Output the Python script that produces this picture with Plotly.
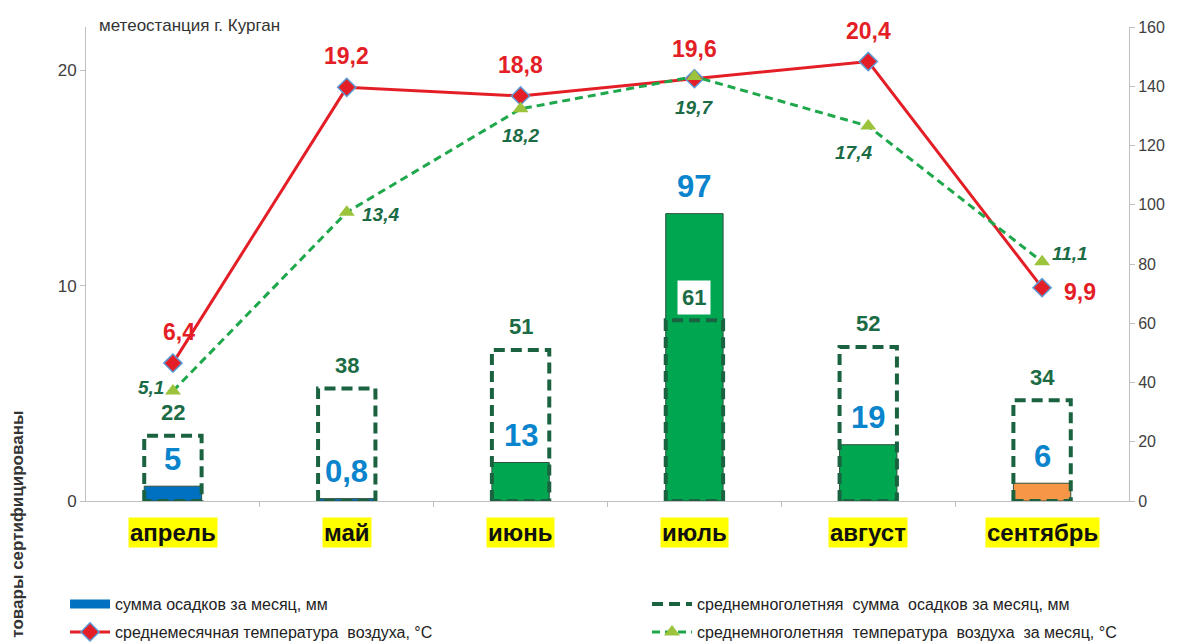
import plotly.graph_objects as go

# ---- data ----
months = ["апрель", "май", "июнь", "июль", "август", "сентябрь"]
precip = [5, 0.8, 13, 97, 19, 6]              # сумма осадков за месяц, мм
precip_norm = [22, 38, 51, 61, 52, 34]        # среднемноголетняя сумма осадков, мм
temp = [6.4, 19.2, 18.8, 19.6, 20.4, 9.9]     # среднемесячная температура, °C
temp_norm = [5.1, 13.4, 18.2, 19.7, 17.4, 11.1]  # среднемноголетняя температура, °C

station = "метеостанция г. Курган"
side_text = "товары сертифицированы"
leg_precip = "сумма осадков за месяц, мм"
leg_precip_norm = "среднемноголетняя\u00a0 сумма\u00a0 осадков за месяц, мм"
leg_temp = "среднемесячная температура\u00a0 воздуха, °C"
leg_temp_norm = "среднемноголетняя\u00a0 температура\u00a0 воздуха\u00a0 за месяц, °C"

# ---- styles ----
bar_colors = ["#0070C0", "#0070C0", "#00A650", "#00A650", "#00A650", "#F79646"]
RED = "#E41E26"
DKGREEN = "#1B6340"
LBLGREEN = "#1B6B45"
BLUE_LBL = "#0A84CC"
BASE = "Liberation Sans, Arial, sans-serif"
AXC = "#BFBFBF"
half_w = 0.165
red_shift = [(6, 31), (0, 31), (0, 31), (0, 30), (0, 30), (38, -4)]
green_shift = [(-22, 4), (34, -2), (0, -27), (0, -31), (-15, -26), (28, 8)]

fmt = lambda v: (f"{v:g}").replace(".", ",")
xs = list(range(len(months)))

fig = go.Figure()

# actual precipitation bars
fig.add_trace(go.Bar(
    x=xs, y=precip, yaxis="y2", width=2 * half_w,
    marker=dict(color=bar_colors, line=dict(color="#2F4F3F", width=1)),
    showlegend=False, hoverinfo="skip"))

# dashed outlines for normal precipitation
ox, oy = [], []
for i, v in zip(xs, precip_norm):
    ox += [i - half_w, i - half_w, i + half_w, i + half_w, i - half_w, None]
    oy += [0, v, v, 0, 0, None]

# legend dummy for bars
fig.add_trace(go.Scatter(x=[None], y=[None], mode="lines", name=leg_precip,
                         line=dict(color="#0070C0", width=9), legend="legend"))
fig.add_trace(go.Scatter(x=ox, y=oy, yaxis="y2", mode="lines", name=leg_precip_norm,
                         line=dict(color=DKGREEN, width=4, dash="11px,6px"),
                         legend="legend2", hoverinfo="skip"))

# temperature lines
fig.add_trace(go.Scatter(
    x=xs, y=temp, mode="lines+markers", name=leg_temp, legend="legend3",
    line=dict(color=RED, width=3),
    marker=dict(symbol="diamond", size=14, color=RED, line=dict(color="#5B9BD5", width=1.5))))
fig.add_trace(go.Scatter(
    x=xs, y=temp_norm, mode="lines+markers", name=leg_temp_norm, legend="legend4",
    line=dict(color="#1EA84B", width=3, dash="8px,5px"),
    marker=dict(symbol="triangle-up", size=14, color="#9BC43C")))

ann = []
ann.append(dict(text=station, xref="paper", yref="paper", x=0.0105, y=1.004,
                xanchor="left", yanchor="middle", showarrow=False,
                font=dict(size=17, color="#333333", family=BASE)))
for i, m in zip(xs, months):
    ann.append(dict(text=f"<b>{m}</b>", x=i, xref="x", y=0, yref="paper", yshift=-31,
                    yanchor="middle", showarrow=False, bgcolor="#FFFF00", borderpad=1,
                    font=dict(size=24, color="#111111", family=BASE)))
for i, v in zip(xs, precip):
    ann.append(dict(text=f"<b>{fmt(v)}</b>", x=i, y=v, xref="x", yref="y2", yshift=27,
                    yanchor="middle", showarrow=False,
                    font=dict(size=31, color=BLUE_LBL, family=BASE)))
for i, v in zip(xs, precip_norm):
    ann.append(dict(text=f"<b>{fmt(v)}</b>", x=i, y=v, xref="x", yref="y2", yshift=23,
                    yanchor="middle", showarrow=False, bgcolor="white", borderpad=4,
                    font=dict(size=22, color=LBLGREEN, family=BASE)))
for i, v, (dx, dy) in zip(xs, temp, red_shift):
    ann.append(dict(text=f"<b>{fmt(v)}</b>", x=i, y=v, xref="x", yref="y",
                    xshift=dx, yshift=dy, yanchor="middle", showarrow=False,
                    font=dict(size=23, color=RED, family=BASE)))
for i, v, (dx, dy) in zip(xs, temp_norm, green_shift):
    ann.append(dict(text=f"<b><i>{fmt(v)}</i></b>", x=i, y=v, xref="x", yref="y",
                    xshift=dx, yshift=dy, yanchor="middle", showarrow=False,
                    font=dict(size=19, color=LBLGREEN, family=BASE)))
ann.append(dict(text=f"<b>{side_text}</b>", textangle=-90, xref="paper", yref="paper",
                x=-0.066, y=-0.2932, xanchor="center", yanchor="bottom", showarrow=False,
                font=dict(size=17, color="#333333", family=BASE)))

leg_common = dict(orientation="h", xanchor="left", yanchor="middle",
                  font=dict(size=16, color="#222222", family=BASE),
                  bgcolor="rgba(0,0,0,0)", itemwidth=40)
row1, row2 = -0.2173, -0.2764
colL, colR = -0.0201, 0.5379

fig.update_layout(
    width=1177, height=643, autosize=False,
    margin=dict(l=86, r=48, t=27, b=142, autoexpand=False),
    plot_bgcolor="white", paper_bgcolor="white",
    font=dict(family=BASE, color="#333333"),
    barmode="overlay",
    xaxis=dict(range=[-0.5, 5.5], tickvals=[i + 0.5 for i in xs[:-1]],
               showticklabels=False, ticks="outside", ticklen=5, tickcolor=AXC,
               showline=True, linecolor=AXC, linewidth=1, showgrid=False, zeroline=False),
    yaxis=dict(range=[0, 22], tickvals=[0, 10, 20], ticks="outside", ticklen=5,
               tickcolor=AXC, showline=True, linecolor=AXC, showgrid=False, zeroline=False,
               tickfont=dict(size=17, color="#404040")),
    yaxis2=dict(range=[0, 160], dtick=20, overlaying="y", side="right", ticks="outside",
                ticklen=5, tickcolor=AXC, showline=True, linecolor=AXC, showgrid=False,
                zeroline=False, tickfont=dict(size=16, color="#404040")),
    legend=dict(x=colL, y=row1, **leg_common),
    legend2=dict(x=colR, y=row1, **leg_common),
    legend3=dict(x=colL, y=row2, **leg_common),
    legend4=dict(x=colR, y=row2, **leg_common),
    annotations=ann,
)

fig.write_html("out.html", config={"displayModeBar": False},
               post_script="document.body.style.margin='0';")
